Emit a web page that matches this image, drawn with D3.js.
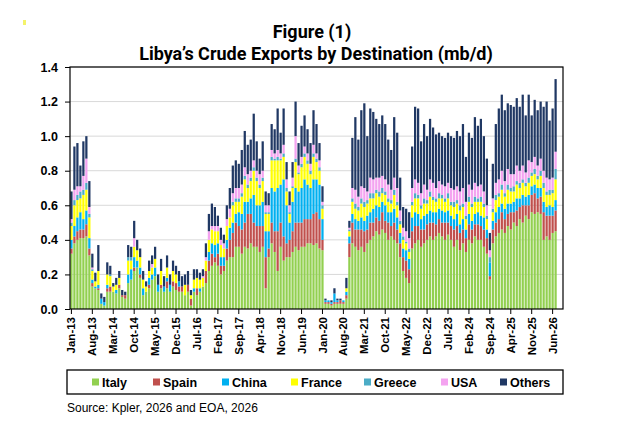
<!DOCTYPE html>
<html>
<head>
<meta charset="utf-8">
<script src="https://cdn.jsdelivr.net/npm/d3@7"></script>
<style>
  body { margin: 0; background: #fff; }
  svg { display: block; font-family: "Liberation Sans", Arial, sans-serif; }
</style>
</head>
<body>
<div class="container"></div>
<script>
const WIDTH = 624;
const HEIGHT = 448;
const PLOT_LEFT = 70;
const PLOT_RIGHT = 563;
const PLOT_TOP = 67;
const PLOT_BOTTOM = 309;

// monthly categories, Jan-13 .. Sep-26 (last ones empty)
const months = d3.timeMonth.range(new Date(2013, 0, 1), new Date(2026, 9, 1));
const monthFormat = d3.timeFormat("%b-%y");

const tickLabels = ["Jan-13","Aug-13","Mar-14","Oct-14","May-15","Dec-15","Jul-16","Feb-17",
  "Sep-17","Apr-18","Nov-18","Jun-19","Jan-20","Aug-20","Mar-21","Oct-21","May-22","Dec-22",
  "Jul-23","Feb-24","Sep-24","Apr-25","Nov-25","Jun-26"];
const yTicks = [0, 0.2, 0.4, 0.6, 0.8, 1.0, 1.2, 1.4];

const seriesNames = ["Italy", "Spain", "China", "France", "Greece", "USA", "Others"];
const seriesColors = ["#92d050", "#c0504d", "#00b0f0", "#ffff00", "#4bacc6", "#f4a3f0", "#203864"];

// mb/d, Jan-13 onwards
const italy = [
  .32,.38,.40,.41,.41,.42,.31,.13,.12,.11, .03,.02,.10,.10,.10,.09,.12,.07,.06,.15,
  .17,.22,.24,.18,.08,.10,.12,.17,.19,.10, .12,.10,.12,.10,.13,.11,.10,.10,.08,.10,
  .02,.10,.08,.10,.13,.15,.22,.25,.27,.25, .20,.22,.28,.30,.30,.36,.36,.32,.36,.35,
  .38,.36,.36,.33,.36,.12,.30,.38,.33,.22, .36,.28,.30,.30,.33,.36,.34,.36,.36,.38,
  .38,.37,.38,.35,.34,.03,.03,.02,.03,.03, .03,.03,.06,.30,.38,.36,.34,.36,.33,.38,
  .40,.42,.45,.43,.46,.44,.40,.42,.40,.38, .30,.22,.18,.15,.35,.38,.40,.36,.38,.40,
  .42,.40,.42,.44,.42,.40,.43,.40,.36,.40, .34,.38,.33,.40,.38,.42,.40,.40,.36,.32,
  .17,.38,.42,.44,.46,.44,.48,.46,.50,.48, .52,.50,.54,.52,.56,.55,.56,.55,.40,.42,
  .40,.44,.45];
const spain = [
  .03,.04,.05,.05,.05,.07,.04,.02,0,.01, 0,0,.02,.03,0,0,.02,.01,.02,0,
  0,.02,0,.02,0,0,.02,0,0,0, .02,0,.04,0,.03,.04,.03,.03,0,.04,
  .04,0,.04,0,0,.07,.06,.07,.03,.07, .05,.03,.07,.10,.14,.14,.12,.14,.14,.20,
  .17,.14,.12,.15,.12,.18,.05,.12,.12,.23, .14,.14,.08,.10,.12,.14,.16,.14,.16,.14,
  .14,.18,.18,.17,.06,.01,.01,.01,.01,.01, .02,.01,.02,.08,.12,.10,.12,.10,.12,.08,
  .10,.08,.08,.08,.10,.07,.10,.06,.10,.08, .08,.08,.10,.08,.10,.10,.08,.10,.08,.09,
  .08,.10,.07,.08,.08,.10,.07,.08,.10,.08, .10,.08,.08,.09,.08,.07,.09,.08,.10,.09,
  .02,.08,.08,.08,.10,.08,.07,.10,.06,.09, .07,.10,.06,.08,.10,.12,.08,.10,.16,.12,
  .14,.10,.12];
const china = [
  .05,.06,.08,.10,.06,.08,.06,.02,.01,.02, .03,.02,.02,0,0,.02,0,0,0,.05,
  .06,.06,.04,.04,.04,0,.04,.03,.05,.04, 0,.03,.02,.04,0,0,.03,0,0,0,
  0,.02,0,.02,0,0,.05,.06,.07,.06, .05,.05,.05,.07,.06,.05,.08,.09,.12,.07,
  .09,.16,.12,.12,.14,.15,.10,.20,.23,.25, .22,.33,.22,.10,.17,.20,.18,.20,.23,.20,
  .18,.20,.19,.20,.12,.01,.01,.01,.05,.01, 0,.01,.02,.04,.05,.06,.05,.07,.06,.08,
  .06,.08,.07,.08,.06,.09,.06,.08,.08,.07, .06,.05,.06,.06,.08,.08,.07,.06,.08,.06,
  .07,.06,.07,.06,.07,.06,.07,.06,.06,.07, .05,.06,.05,.06,.05,.06,.07,.06,.07,.05,
  .08,.05,.06,.07,.05,.06,.06,.05,.06,.07, .05,.06,.05,.06,.05,.05,.06,.05,.06,.05,
  .06,.05,.06];
const france = [
  .08,.12,.10,.08,.14,.12,.12,.05,.03,.08, 0,0,.06,.06,.03,.03,.04,0,0,.08,
  .05,.06,.06,.06,.05,.03,.04,.04,.05,0, .08,0,.06,0,.06,.05,0,0,.06,0,
  .02,.05,.06,.05,.05,.06,.07,.08,.08,.07, .07,.05,.08,.06,.10,.07,.06,.10,.13,.08,
  .10,.14,.14,.10,.12,.10,.10,.16,.18,.16, .14,.13,.08,.05,.08,.15,.10,.12,.13,.12,
  .08,.13,.10,.08,.06,0,0,0,0,0, 0,0,.02,.03,.07,.06,.06,.08,.08,.07,
  .08,.06,.07,.06,.05,.06,.06,.05,.08,.07, .05,.05,.04,.04,.07,.08,.09,.06,.07,.06,
  .08,.07,.06,.06,.07,.06,.07,.06,.07,.06, .08,.07,.06,.07,.08,.07,.06,.08,.06,.06,
  0,.05,.07,.06,.08,.07,.08,.07,.06,.08, .06,.07,.06,.07,.06,.06,.05,.07,.08,.07,
  .06,.08,.12];
const greece = [
  .02,.03,.03,.04,.03,.04,.02,.01,0,0, 0,0,0,.01,0,0,0,0,0,.02,
  .02,0,0,0,0,0,0,0,0,0, 0,0,0,0,0,0,0,0,0,0,
  0,0,0,0,0,0,0,0,0,0, 0,0,0,0,.02,.02,.02,.02,.02,.02,
  .02,.02,.02,.02,.02,.01,.01,.02,.01,.02, .01,.02,.02,.01,.01,.02,.01,.02,.02,.02,
  .02,.02,.02,.02,.02,0,0,0,0,0, 0,0,0,.01,.02,.03,.02,.03,.03,.02,
  .03,.03,.02,.03,.03,.02,.02,.02,.03,.02, .02,.02,.01,.02,.02,.03,.02,.02,.03,.02,
  .03,.02,.02,.03,.02,.02,.03,.02,.03,.02, .03,.02,.02,.03,.02,.03,.02,.03,.02,.02,
  .03,.02,.03,.02,.03,.02,.03,.02,.03,.02, .03,.02,.02,.03,.02,.03,.02,.03,.03,.02,
  .03,.02,.06];
const usa = [
  .02,.06,.05,.03,.08,.14,.04,.01,0,0, 0,0,0,0,0,0,0,0,0,0,
  0,.05,0,0,0,0,0,.02,0,0, 0,0,0,0,0,0,0,0,0,0,
  0,0,0,0,.01,.02,.05,.02,.03,.03, .03,.03,.04,.05,.05,.06,.06,.05,.05,.06,
  .04,.04,.04,.06,.04,.04,.04,.04,.03,.04, .03,.05,.05,.04,.05,.13,.04,.04,.04,.04,
  .04,.05,.03,.04,.02,0,0,0,0,0, 0,0,0,.01,.06,.08,.06,.07,.08,.05,
  .09,.08,.07,.08,.07,.07,.08,.06,.07,.08, .06,.05,.06,.06,.08,.08,.07,.07,.08,.06,
  .07,.08,.06,.07,.06,.07,.06,.08,.07,.08, .08,.09,.08,.07,.08,.08,.07,.07,.07,.06,
  .04,.06,.07,.08,.08,.07,.09,.08,.07,.09, .07,.08,.06,.10,.06,.07,.06,.07,.07,.08,
  .06,.07,.10];
const others = [
  .16,.25,.25,.12,.20,.13,.15,.08,.05,.15, .03,.03,.07,.05,.02,.04,.04,.03,.02,.07,
  .06,.10,.06,.05,.05,.03,.06,.05,.07,.06, .07,.06,.07,.06,.06,.05,.06,.06,.06,.08,
  .03,.06,.05,.04,.04,.08,.10,.13,.11,.06, .07,.05,.08,.12,.16,.16,.14,.20,.21,.17,
  .18,.27,.17,.09,.17,.08,.07,.15,.14,.24, .12,.21,.10,.08,.09,.20,.13,.18,.18,.14,
  .12,.20,.17,.10,.09,.01,0,.01,.03,.01, .01,0,.06,.04,.29,.42,.33,.44,.49,.32,
  .40,.39,.34,.31,.35,.32,.26,.23,.35,.32, .19,.12,.13,.15,.24,.42,.43,.30,.35,.31,
  .35,.32,.31,.28,.28,.28,.29,.30,.30,.32, .32,.37,.26,.30,.30,.38,.35,.38,.32,.27,
  .10,.20,.34,.41,.44,.41,.38,.40,.39,.39, .37,.41,.33,.38,.27,.33,.32,.33,.37,.44,
  .34,.40,.42];

// legend entry x positions (left of swatch)
const legendX = [92, 153, 222, 291, 364, 441, 500];

var loadChart = function () {
  var seriesValues = [italy, spain, china, france, greece, usa, others];
  var categories = months.map(monthFormat);

  var rows = categories.map(function (c, i) {
    var row = { month: c };
    seriesNames.forEach(function (s, k) {
      row[s] = seriesValues[k][i] === undefined ? 0 : seriesValues[k][i];
    });
    return row;
  });

  var xScale = d3.scaleBand()
    .domain(categories)
    .range([PLOT_LEFT, PLOT_RIGHT])
    .paddingInner(0.25)
    .paddingOuter(0.1);

  var yScale = d3.scaleLinear()
    .domain([0, 1.4])
    .range([PLOT_BOTTOM, PLOT_TOP]);

  var color = d3.scaleOrdinal().domain(seriesNames).range(seriesColors);

  var svg = d3.select(".container").append("svg")
    .attr("width", WIDTH)
    .attr("height", HEIGHT);

  // little yellow mark in the corner
  svg.append("rect").attr("x", 23).attr("y", 20).attr("width", 3).attr("height", 5)
    .attr("fill", "#f4f36a");

  svg.append("text")
    .attr("x", 312).attr("y", 38)
    .attr("text-anchor", "middle")
    .style("font-family", "Roboto, 'Liberation Sans', sans-serif")
    .style("font-weight", "700").style("font-size", "18px")
    .text("Figure (1)");
  svg.append("text")
    .attr("x", 316).attr("y", 60)
    .attr("text-anchor", "middle")
    .style("font-family", "Roboto, 'Liberation Sans', sans-serif")
    .style("font-weight", "700").style("font-size", "18px")
    .text("Libya\u2019s Crude Exports by Destination (mb/d)");

  // gridlines
  svg.append("g").selectAll("line")
    .data(yTicks.slice(1))
    .enter().append("line")
    .attr("x1", PLOT_LEFT).attr("x2", PLOT_RIGHT)
    .attr("y1", function (d) { return yScale(d); })
    .attr("y2", function (d) { return yScale(d); })
    .attr("stroke", "#d9d9d9").attr("stroke-width", 1);

  var stacked = d3.stack().keys(seriesNames)(rows);

  svg.append("g").selectAll("g")
    .data(stacked)
    .enter().append("g")
    .attr("fill", function (d) { return color(d.key); })
    .selectAll("rect")
    .data(function (d) { return d; })
    .enter().append("rect")
    .attr("x", function (d) { return xScale(d.data.month); })
    .attr("width", xScale.bandwidth())
    .attr("y", function (d) { return yScale(d[1]); })
    .attr("height", function (d) { return yScale(d[0]) - yScale(d[1]); });

  // plot frame
  svg.append("rect")
    .attr("x", PLOT_LEFT).attr("y", PLOT_TOP)
    .attr("width", PLOT_RIGHT - PLOT_LEFT).attr("height", PLOT_BOTTOM - PLOT_TOP)
    .attr("fill", "none").attr("stroke", "#000").attr("stroke-width", 1.2);

  var yAxis = d3.axisLeft(yScale)
    .tickValues(yTicks)
    .tickFormat(d3.format(".1f"))
    .tickSize(5).tickPadding(7);
  var gy = svg.append("g")
    .attr("transform", "translate(" + PLOT_LEFT + ",0)")
    .call(yAxis);
  gy.select(".domain").remove();
  gy.selectAll("text").style("font-size", "12.5px").style("font-weight", "700").attr("fill", "#000");

  var xAxis = d3.axisBottom(xScale)
    .tickValues(tickLabels)
    .tickSize(5).tickSizeOuter(0);
  var gx = svg.append("g")
    .attr("transform", "translate(0," + PLOT_BOTTOM + ")")
    .call(xAxis);
  gx.select(".domain").remove();
  gx.selectAll("text")
    .attr("transform", "rotate(-90)")
    .attr("x", -8).attr("y", 0).attr("dy", "0.35em")
    .style("text-anchor", "end")
    .style("font-size", "11.5px").style("font-weight", "700").attr("fill", "#000");

  // legend
  svg.append("rect")
    .attr("x", 67).attr("y", 370).attr("width", 496).attr("height", 24)
    .attr("fill", "none").attr("stroke", "#000").attr("stroke-width", 1.3);
  var items = svg.append("g").selectAll("g")
    .data(seriesNames)
    .enter().append("g")
    .attr("transform", function (d, i) { return "translate(" + legendX[i] + ",382)"; });
  items.append("rect")
    .attr("x", 0).attr("y", -3.5).attr("width", 7).attr("height", 7)
    .attr("fill", function (d) { return color(d); });
  items.append("text")
    .attr("x", 10).attr("y", 4.5)
    .style("font-size", "12.5px").style("font-weight", "700")
    .text(function (d) { return d; });

  svg.append("text")
    .attr("x", 67).attr("y", 412)
    .style("font-size", "12px")
    .text("Source: Kpler, 2026 and EOA, 2026");
};

window.onload = loadChart;
</script>
</body>
</html>
